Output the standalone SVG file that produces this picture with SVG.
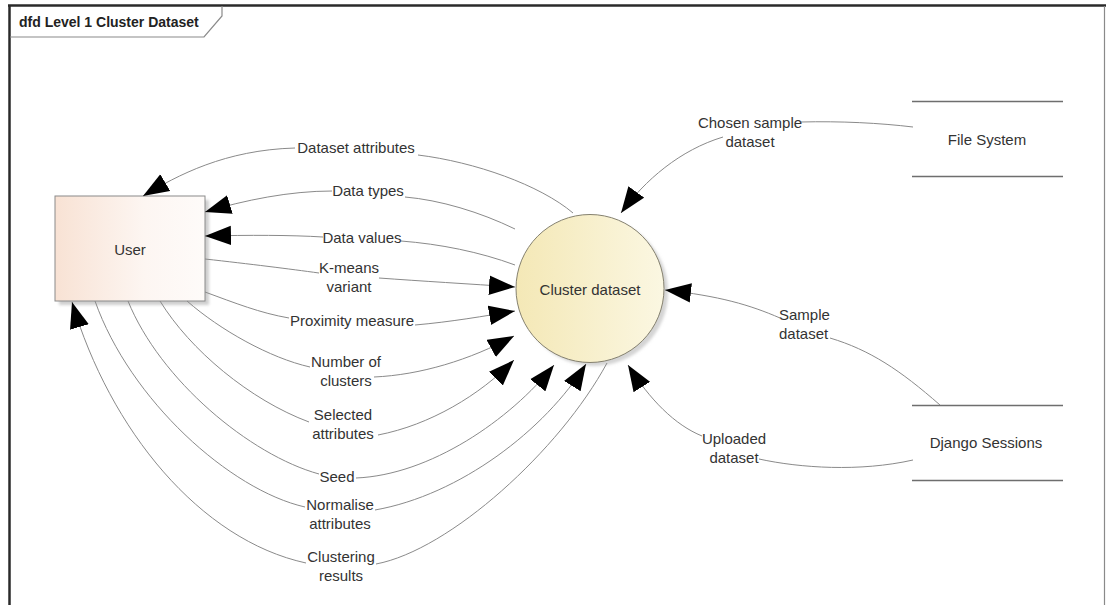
<svg xmlns="http://www.w3.org/2000/svg" width="1106" height="605" viewBox="0 0 1106 605">
  <style>
    text { font-family: "Liberation Sans", Arial, sans-serif; font-size: 15px; fill: #333; }
    .title { font-weight: bold; font-size: 14px; fill: #222; }
    .flow { fill: none; stroke: #8a8a8a; stroke-width: 1; }
    .store { stroke: #6e6e6e; stroke-width: 1.3; }
    .mid { text-anchor: middle; }
  </style>
  <defs>
    <linearGradient id="userFill" x1="0" y1="0" x2="1" y2="0">
      <stop offset="0" stop-color="#f8e2d4"/>
      <stop offset="0.6" stop-color="#fdf6f2"/>
      <stop offset="1" stop-color="#fefbf9"/>
    </linearGradient>
    <linearGradient id="procFill" x1="0" y1="0" x2="1" y2="0">
      <stop offset="0" stop-color="#f4e8b6"/>
      <stop offset="1" stop-color="#fbf7e2"/>
    </linearGradient>
    <filter id="soft" x="-10%" y="-10%" width="130%" height="130%">
      <feGaussianBlur stdDeviation="1.5"/>
    </filter>
    <marker id="arrow" markerUnits="userSpaceOnUse" markerWidth="26" markerHeight="20" viewBox="0 0 24 18" refX="24" refY="9" orient="auto">
      <path d="M0,0 L24,9 L0,18 Z" fill="#000"/>
    </marker>
  </defs>

  <!-- diagram frame and name tab -->
  <g id="frame">
    <rect x="0" y="0" width="1106" height="605" fill="#fff"/>
    <line x1="8" y1="5.5" x2="1106" y2="5.5" stroke="#2a2a2a" stroke-width="2.5"/>
    <line x1="9.5" y1="5" x2="9.5" y2="605" stroke="#2a2a2a" stroke-width="2.5"/>
    <line x1="1104.5" y1="6" x2="1104.5" y2="605" stroke="#8a8a8a" stroke-width="1.2"/>
    <polyline points="10,37 204,37 222,16 222,6" fill="none" stroke="#8a8a8a" stroke-width="1.2"/>
    <text class="title" x="19" y="27">dfd Level 1 Cluster Dataset</text>
  </g>

  <!-- external entity -->
  <g id="user">
    <rect x="59" y="200" width="150" height="105" fill="#cfcfcf" filter="url(#soft)"/>
    <rect x="55" y="196" width="150" height="105" fill="url(#userFill)" stroke="#8a8a8a" stroke-width="1"/>
    <text class="mid" x="130" y="255">User</text>
  </g>

  <!-- process -->
  <g id="cluster-dataset">
    <circle cx="594" cy="292" r="74" fill="#d4d4d4" filter="url(#soft)"/>
    <circle cx="590" cy="288.5" r="74" fill="url(#procFill)" stroke="#85816f" stroke-width="1"/>
    <text class="mid" x="590" y="295">Cluster dataset</text>
  </g>

  <!-- data stores -->
  <g id="file-system">
    <line class="store" x1="912" y1="101.5" x2="1063" y2="101.5"/>
    <line class="store" x1="912" y1="176.5" x2="1063" y2="176.5"/>
    <text class="mid" x="987" y="145">File System</text>
  </g>
  <g id="django-sessions">
    <line class="store" x1="912" y1="405.5" x2="1063" y2="405.5"/>
    <line class="store" x1="912" y1="480.5" x2="1063" y2="480.5"/>
    <text class="mid" x="986" y="448">Django Sessions</text>
  </g>

  <!-- data flows -->
  <g id="flows">
    <!-- Dataset attributes -->
    <path class="flow" d="M573,213 C540,185 475,162 418,155"/>
    <path class="flow" d="M295,148 C225,150 178,175 143,196" marker-end="url(#arrow)"/>
    <!-- Data types -->
    <path class="flow" d="M515,229 C480,212 440,200 405,197"/>
    <path class="flow" d="M332,191 C290,191 245,200 205,212" marker-end="url(#arrow)"/>
    <!-- Data values -->
    <path class="flow" d="M515,265 C480,252 440,244 401,241"/>
    <path class="flow" d="M323,237 C290,235 250,235 205,236" marker-end="url(#arrow)"/>
    <!-- K-means variant -->
    <path class="flow" d="M205,259 C250,264 290,269 319,273"/>
    <path class="flow" d="M379,278 C420,281 470,284 515,287" marker-end="url(#arrow)"/>
    <!-- Proximity measure -->
    <path class="flow" d="M205,292 C235,303 260,313 289,318"/>
    <path class="flow" d="M415,325 C450,322 485,316 515,311" marker-end="url(#arrow)"/>
    <!-- Number of clusters -->
    <path class="flow" d="M187,301 C220,330 270,358 310,367"/>
    <path class="flow" d="M374,377 C420,375 470,360 514,336" marker-end="url(#arrow)"/>
    <!-- Selected attributes -->
    <path class="flow" d="M160,301 C190,350 250,400 309,422"/>
    <path class="flow" d="M378,435 C430,425 480,395 514,360" marker-end="url(#arrow)"/>
    <!-- Seed -->
    <path class="flow" d="M128,301 C160,380 250,455 319,474"/>
    <path class="flow" d="M356,478 C430,475 510,420 554,365" marker-end="url(#arrow)"/>
    <!-- Normalise attributes -->
    <path class="flow" d="M95,301 C130,400 230,490 305,507"/>
    <path class="flow" d="M375,510 C460,495 545,430 586,364" marker-end="url(#arrow)"/>
    <!-- Clustering results -->
    <path class="flow" d="M607,363 C560,450 450,550 376,564"/>
    <path class="flow" d="M306,563 C200,540 110,430 72,302" marker-end="url(#arrow)"/>
    <!-- Chosen sample dataset -->
    <path class="flow" d="M913,127 C880,123 840,121 801,122"/>
    <path class="flow" d="M723,137 C680,150 645,180 621,213" marker-end="url(#arrow)"/>
    <!-- Sample dataset -->
    <path class="flow" d="M940,405 C900,370 870,350 830,338"/>
    <path class="flow" d="M780,318 C750,305 720,296 665,290" marker-end="url(#arrow)"/>
    <!-- Uploaded dataset -->
    <path class="flow" d="M913,460 C860,472 800,468 759,459"/>
    <path class="flow" d="M702,436 C675,425 650,400 628,365" marker-end="url(#arrow)"/>
  </g>

  <!-- flow labels -->
  <g id="flow-labels">
    <text class="mid" x="356" y="153">Dataset attributes</text>
    <text class="mid" x="368" y="196">Data types</text>
    <text class="mid" x="362" y="243">Data values</text>
    <text class="mid" x="349" y="273">K-means</text>
    <text class="mid" x="349" y="292">variant</text>
    <text class="mid" x="352" y="326">Proximity measure</text>
    <text class="mid" x="346" y="367">Number of</text>
    <text class="mid" x="346" y="386">clusters</text>
    <text class="mid" x="343" y="420">Selected</text>
    <text class="mid" x="343" y="439">attributes</text>
    <text class="mid" x="337" y="482">Seed</text>
    <text class="mid" x="340" y="510">Normalise</text>
    <text class="mid" x="340" y="529">attributes</text>
    <text class="mid" x="341" y="562">Clustering</text>
    <text class="mid" x="341" y="581">results</text>
    <text class="mid" x="750" y="128">Chosen sample</text>
    <text class="mid" x="750" y="147">dataset</text>
    <text x="779" y="320">Sample</text>
    <text x="779" y="339">dataset</text>
    <text class="mid" x="734" y="444">Uploaded</text>
    <text class="mid" x="734" y="463">dataset</text>
  </g>
</svg>
